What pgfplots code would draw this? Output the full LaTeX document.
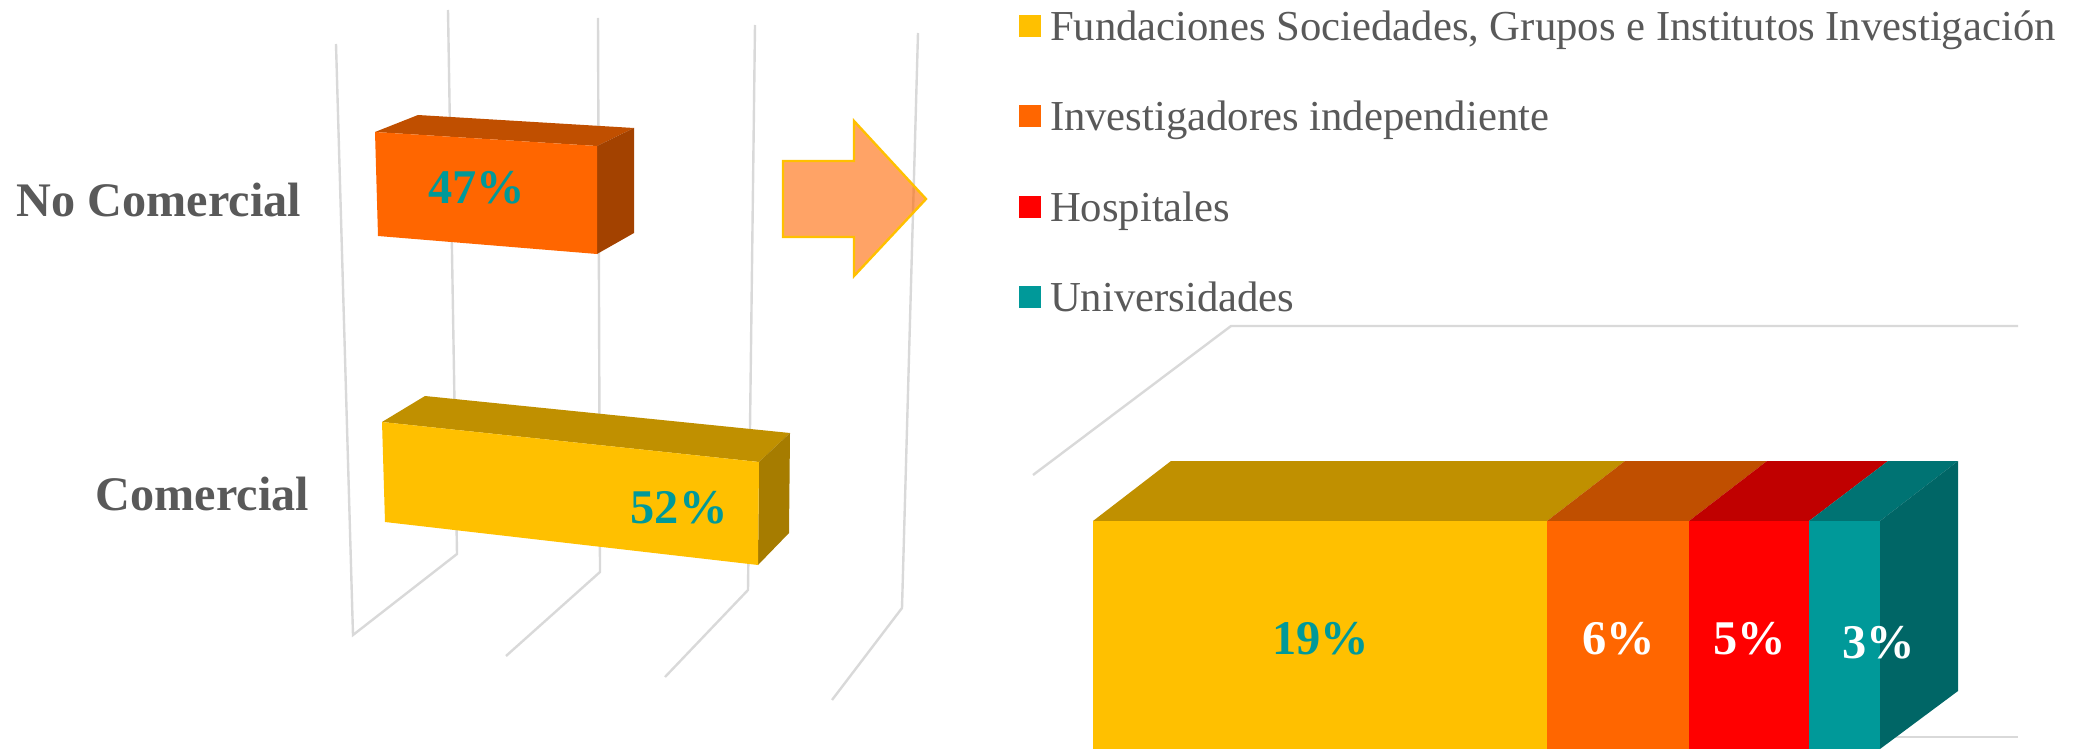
\documentclass[border=0pt]{standalone}
\usepackage{fontspec}
\setmainfont{Liberation Serif}
\usepackage{pgfplots}
\pgfplotsset{compat=1.18}
\definecolor{gridc}{HTML}{D9D9D9}
\definecolor{txt}{HTML}{595959}
\definecolor{yel}{HTML}{FFC000}
\definecolor{yeltop}{HTML}{C09000}
\definecolor{yelside}{HTML}{A67C00}
\definecolor{ora}{HTML}{FF6600}
\definecolor{oratop}{HTML}{C04F00}
\definecolor{oraside}{HTML}{A34200}
\definecolor{redf}{HTML}{FF0000}
\definecolor{redtop}{HTML}{C00000}
\definecolor{tea}{HTML}{009999}
\definecolor{teatop}{HTML}{007373}
\definecolor{teaside}{HTML}{006666}
\newcommand{\catfont}{\fontsize{24.1}{24}\selectfont\bfseries}
\newcommand{\valfont}{\fontsize{24.2}{24}\selectfont\bfseries}
\newcommand{\legfont}{\fontsize{21.35}{24}\selectfont}
\begin{document}
\begin{tikzpicture}
\begin{axis}[
  scale only axis, width=1037pt, height=374.5pt,
  xmin=0, xmax=2074, ymin=0, ymax=749, y dir=reverse,
  hide axis, clip=true,
  grid3/.style={draw=gridc, line width=1.2pt, no markers, forget plot},
  face/.style={draw=none, no markers, forget plot, fill=#1},
]
\path[use as bounding box] (axis cs:0,0) rectangle (axis cs:2074,749);
% left panel walls
\addplot[grid3] coordinates {(336,44) (353,635) (457,554) (448,10)};
\addplot[grid3] coordinates {(598,18) (600,572) (506,656)};
\addplot[grid3] coordinates {(755,25) (748,590) (665,677)};
\addplot[grid3] coordinates {(918,33) (902,608) (832,700)};
% right panel walls
\addplot[grid3] coordinates {(2018,326) (1231,326) (1033,475)};
\addplot[grid3] coordinates {(1880,737) (2018,737)};
% No Comercial 47
\addplot[face=oratop] coordinates {(375,132) (418,115) (634,128) (597,146)} --cycle;
\addplot[face=oraside] coordinates {(597,146) (634,128) (634,233) (597,254)} --cycle;
\addplot[face=ora] coordinates {(375,132) (597,146) (597,254) (378,236)} --cycle;
% Comercial 52
\addplot[face=yeltop] coordinates {(382,422) (425,396) (790,433) (759,462)} --cycle;
\addplot[face=yelside] coordinates {(759,462) (790,433) (789,533) (758,565)} --cycle;
\addplot[face=yel] coordinates {(382,422) (759,462) (758,565) (385,522)} --cycle;
% arrow
\addplot[draw=yel, line width=1.2pt, fill=ora, fill opacity=0.6, no markers, forget plot]
  coordinates {(783,161) (854,161) (854,121) (926,199) (854,276) (854,237) (783,237)} --cycle;
% stacked bar 19 / 6 / 5 / 3
\addplot[face=yeltop] coordinates {(1093,521) (1171,461) (1625,461) (1547,521)} --cycle;
\addplot[face=oratop] coordinates {(1547,521) (1625,461) (1767,461) (1689,521)} --cycle;
\addplot[face=redtop] coordinates {(1689,521) (1767,461) (1888,461) (1809,521)} --cycle;
\addplot[face=teatop] coordinates {(1809,521) (1888,461) (1958,461) (1880,521)} --cycle;
\addplot[face=teaside] coordinates {(1880,521) (1958,461) (1958,691) (1880,749)} --cycle;
\addplot[face=yel] coordinates {(1093,521) (1547,521) (1547,749) (1093,749)} --cycle;
\addplot[face=ora] coordinates {(1547,521) (1689,521) (1689,749) (1547,749)} --cycle;
\addplot[face=redf] coordinates {(1689,521) (1809,521) (1809,749) (1689,749)} --cycle;
\addplot[face=tea] coordinates {(1809,521) (1880,521) (1880,749) (1809,749)} --cycle;
% legend keys
\addplot[face=yel] coordinates {(1019,15) (1041,15) (1041,37) (1019,37)} --cycle;
\addplot[face=ora] coordinates {(1019,105) (1041,105) (1041,127) (1019,127)} --cycle;
\addplot[face=redf] coordinates {(1019,196) (1041,196) (1041,218) (1019,218)} --cycle;
\addplot[face=tea] coordinates {(1019,286) (1041,286) (1041,308) (1019,308)} --cycle;
% text
\tikzset{every node/.style={inner sep=0pt, outer sep=0pt}}
\node[anchor=base east, text=txt] at (axis cs:301,216) {\catfont No Comercial};
\node[anchor=base east, text=txt] at (axis cs:309,510) {\catfont Comercial};
\node[anchor=base, text=tea] at (axis cs:476.5,204) {\valfont 47\%};
\node[anchor=base, text=tea] at (axis cs:679,523) {\valfont 52\%};
\node[anchor=base, text=tea] at (axis cs:1320.5,654) {\valfont 19\%};
\node[anchor=base, text=white] at (axis cs:1618.5,654) {\valfont 6\%};
\node[anchor=base, text=white] at (axis cs:1749.5,654) {\valfont 5\%};
\node[anchor=base, text=white] at (axis cs:1879,658) {\valfont 3\%};
\node[anchor=base west, text=txt] at (axis cs:1050,41) {\legfont Fundaciones Sociedades, Grupos e Institutos Investigación};
\node[anchor=base west, text=txt] at (axis cs:1050,131) {\legfont Investigadores independiente};
\node[anchor=base west, text=txt] at (axis cs:1050,221) {\legfont Hospitales};
\node[anchor=base west, text=txt] at (axis cs:1050,311) {\legfont Universidades};
\end{axis}
\end{tikzpicture}
\end{document}
